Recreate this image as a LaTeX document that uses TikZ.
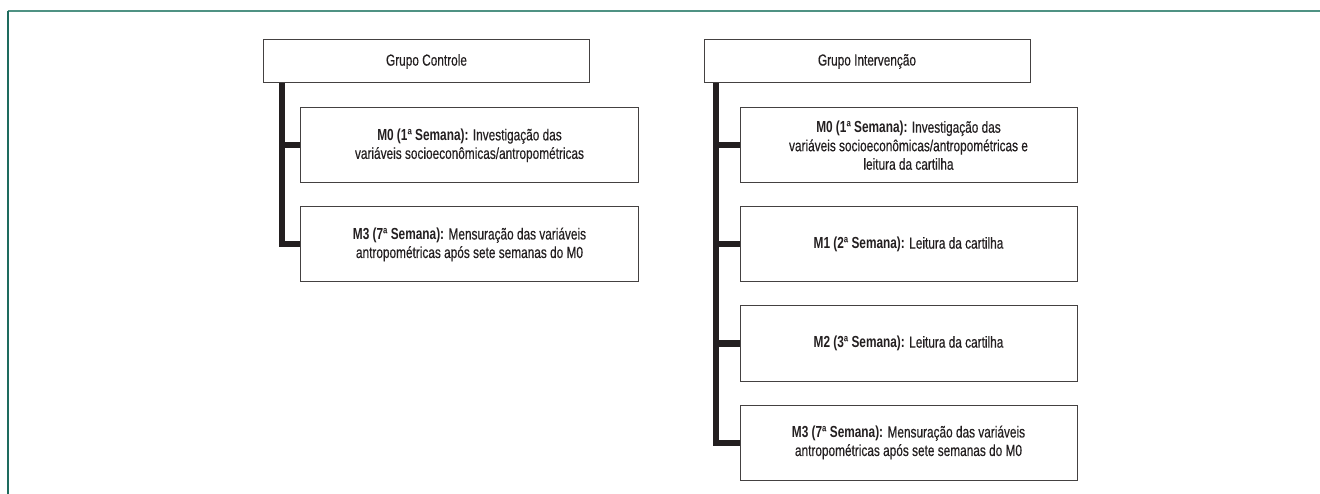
\documentclass[tikz,border=0pt]{standalone}
\usepackage{fontspec}
\setmainfont{Liberation Sans}[FakeStretch=0.74, UprightFeatures={FakeBold=0.35}]
\usetikzlibrary{positioning}

\definecolor{frametop}{HTML}{4F9283}
\definecolor{frameleft}{HTML}{1E6B5E}
\definecolor{ink}{HTML}{231F20}

\tikzset{
  group/.style={draw=ink!85, line width=1pt, text=ink, minimum width=326pt, minimum height=43pt, inner sep=0pt},
  stage/.style={draw=ink!85, line width=1pt, text=ink, align=center, minimum width=338pt, minimum height=75pt, inner sep=0pt},
  bar/.style={draw=ink, line width=6pt}
}

\begin{document}
\begin{tikzpicture}[x=1pt, y=-1pt, font=\fontsize{16}{18.5}\selectfont]

  \useasboundingbox (0,0) rectangle (1320,494);
  \draw[frametop, line width=2.2pt] (7.5,11) -- (1320,11);
  \draw[frameleft, line width=1.6pt] (8,11) -- (8,494);

  % control group
  \node (gc) [group] at (426.5,61.5) {Grupo Controle};
  \node (c0) [stage, below=24pt of gc.south west, anchor=north west, xshift=37pt]
    {\textbf{M0 (1ª Semana):} Investigação das\\variáveis socioeconômicas/antropométricas};
  \node (c3) [stage, below=23pt of c0]
    {\textbf{M3 (7ª Semana):} Mensuração das variáveis\\antropométricas após sete semanas do M0};

  % intervention group
  \node (gi) [group] at (867,61.5) {Grupo Intervenção};
  \node (i0) [stage, minimum width=337pt, below=24pt of gi.south west, anchor=north west, xshift=36pt]
    {\textbf{M0 (1ª Semana):} Investigação das\\variáveis socioeconômicas/antropométricas e\\leitura da cartilha};
  \node (i1) [stage, minimum width=337pt, below=23pt of i0] {\textbf{M1 (2ª Semana):} Leitura da cartilha};
  \node (i2) [stage, minimum width=337pt, below=23pt of i1] {\textbf{M2 (3ª Semana):} Leitura da cartilha};
  \node (i3) [stage, minimum width=337pt, below=23pt of i2]
    {\textbf{M3 (7ª Semana):} Mensuração das variáveis\\antropométricas após sete semanas do M0};

  \coordinate (cbar) at ([xshift=19pt]gc.south west);
  \coordinate (ibar) at ([xshift=12pt]gi.south west);

  \draw[bar] (cbar) |- (c3.west);
  \draw[bar] (cbar |- c0.west) -- (c0.west);

  \draw[bar] (ibar) |- (i3.west);
  \draw[bar] (ibar |- i0.west) -- (i0.west);
  \draw[bar] (ibar |- i1.west) -- (i1.west);
  \draw[bar] (ibar |- i2.west) -- (i2.west);

\end{tikzpicture}
\end{document}
